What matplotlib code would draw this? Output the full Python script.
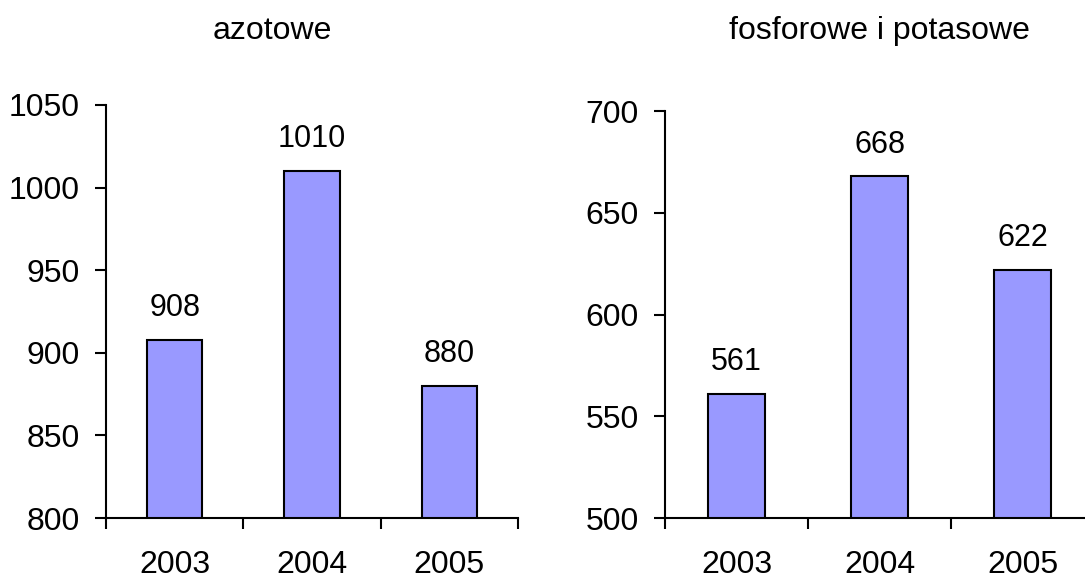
import matplotlib.pyplot as plt

plt.rcParams['font.family'] = ['Liberation Sans', 'DejaVu Sans']

years = ['2003', '2004', '2005']
azotowe = [908, 1010, 880]
fosforowe = [561, 668, 622]

W, H = 1085, 578
fig = plt.figure(figsize=(W / 100, H / 100), dpi=100)


def px_axes(x0, y0, x1, y1):
    # pixel box (top-left origin) -> figure fraction axes
    return fig.add_axes([x0 / W, 1 - y1 / H, (x1 - x0) / W, (y1 - y0) / H])


def bar_panel(ax, values, ylim, step, width):
    x = range(len(values))
    ax.bar(x, values, width=width, color='#9999FF', edgecolor='black',
           linewidth=1.5, zorder=2)
    for xi, v in zip(x, values):
        ax.annotate(str(v), (xi, v), xytext=(0, 17), textcoords='offset points',
                    ha='center', va='baseline', fontsize=22)
    ax.set_xlim(-0.5, len(values) - 0.5)
    ax.set_ylim(*ylim)
    ax.set_yticks(range(ylim[0], ylim[1] + 1, step))
    ax.set_xticks(range(len(values)))
    ax.set_xticklabels(years)
    ax.set_xticks([i - 0.5 for i in range(len(values) + 1)], minor=True)
    ax.tick_params(axis='x', which='major', length=0, pad=23, labelsize=23)
    ax.tick_params(axis='x', which='minor', length=8, width=1.5, direction='out')
    ax.tick_params(axis='y', length=8, width=1.5, direction='out', pad=11,
                   labelsize=23)
    for s in ['top', 'right']:
        ax.spines[s].set_visible(False)
    for s in ['left', 'bottom']:
        ax.spines[s].set_linewidth(1.5)
    ax.spines['bottom'].set_zorder(3)
    ax.patch.set_alpha(0)


ax1 = px_axes(106, 105, 518, 518)
bar_panel(ax1, azotowe, (800, 1050), 50, 0.405)

ax2 = px_axes(665, 111, 1094, 518)
bar_panel(ax2, fosforowe, (500, 700), 50, 0.4)

fig.text(272 / W, 1 - 31 / H, 'azotowe', ha='center', va='center', fontsize=23)
fig.text(879 / W, 1 - 31 / H, 'fosforowe i potasowe', ha='center', va='center',
         fontsize=23)

fig.savefig('out.png', dpi=100)
